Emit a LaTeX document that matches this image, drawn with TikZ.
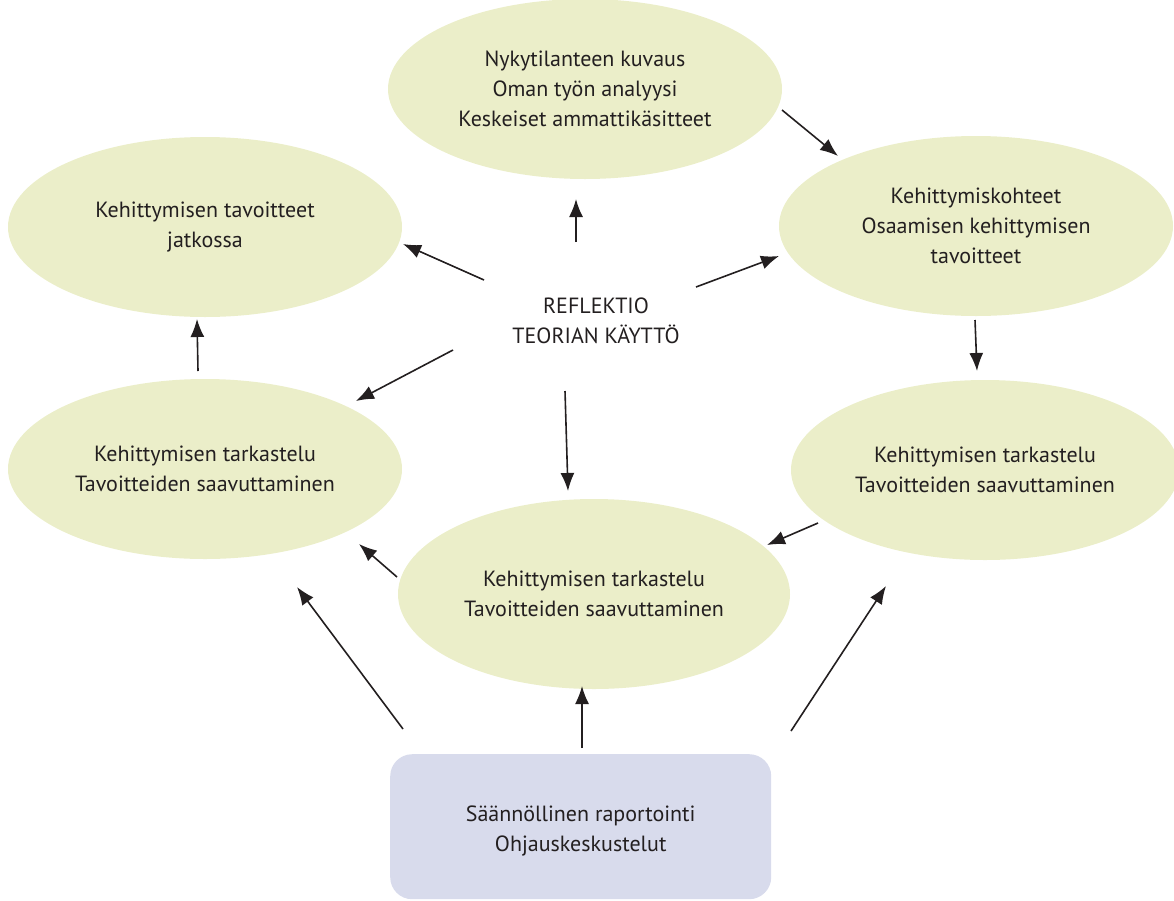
\documentclass[tikz,border=0pt]{standalone}
\usepackage{fontspec}
\setmainfont{PT Sans}
\usetikzlibrary{arrows.meta,shapes.geometric}
\definecolor{ovalfill}{HTML}{EBEEC9}
\definecolor{boxfill}{HTML}{D8DBEC}
\definecolor{inkgray}{HTML}{231F20}

\begin{document}
\begin{tikzpicture}[x=1pt,y=-1pt,>={Latex[length=18pt,width=14pt]},
	oval/.style={ellipse, fill=ovalfill, minimum width=394pt, minimum height=180pt, inner sep=0pt, align=center, text=inkgray, font=\fontsize{22}{30}\selectfont},
	reportbox/.style={rounded corners=22pt, fill=boxfill, minimum width=381pt, minimum height=145pt},
	plain/.style={align=center, text=inkgray, font=\fontsize{22}{30}\selectfont},
	link/.style={->, line width=1.6pt, inkgray}]
	\useasboundingbox (0,0) rectangle (1174,900);

	\node[oval] (current) at (585,89) {Nykytilanteen kuvaus\\Oman työn analyysi\\Keskeiset ammattikäsitteet};
	\node[oval] (future) at (205,227) {Kehittymisen tavoitteet\\jatkossa};
	\node[oval] (targets) at (976,226) {Kehittymiskohteet\\Osaamisen kehittymisen\\tavoitteet};
	\node[oval] (reviewL) at (205,469) {Kehittymisen tarkastelu\\Tavoitteiden saavuttaminen};
	\node[oval, minimum width=388pt] (reviewR) at (985,470) {Kehittymisen tarkastelu\\Tavoitteiden saavuttaminen};
	\node[oval, minimum width=392pt, minimum height=190pt] (reviewM) at (594,594) {Kehittymisen tarkastelu\\Tavoitteiden saavuttaminen};
	\node[plain] (reflect) at (596,321) {REFLEKTIO\\TEORIAN KÄYTTÖ};
	\node[reportbox, anchor=north west] (report) at (390,754) {};
	\node[plain] (reportText) at ([yshift=-4pt]report.center) {Säännöllinen raportointi\\Ohjauskeskustelut};

	\coordinate (r1) at (576,242);   \coordinate (c1) at (576,199);
	\coordinate (r2) at (484,280);   \coordinate (f2) at (403,244);
	\coordinate (r3) at (696,287);   \coordinate (t3) at (779,256);
	\coordinate (c4) at (782,110);   \coordinate (t4) at (838,156);
	\coordinate (t5) at (975,320);   \coordinate (v5) at (977,371);
	\coordinate (r6) at (453,350);   \coordinate (l6) at (356,401);
	\coordinate (r7) at (565,391);   \coordinate (m7) at (568,491);
	\coordinate (l8) at (198,371);   \coordinate (f8) at (197,319);
	\coordinate (m9) at (397,577);   \coordinate (l9) at (359,544);
	\coordinate (v10) at (818,523);  \coordinate (m10) at (767,545);
	\coordinate (p11) at (403,729);  \coordinate (l11) at (297,587);
	\coordinate (p12) at (582,748);  \coordinate (m12) at (582,686);
	\coordinate (p13) at (791,731);  \coordinate (v13) at (886,586);

	\foreach \a/\b in {r1/c1,r2/f2,r3/t3,c4/t4,t5/v5,r6/l6,r7/m7,l8/f8,m9/l9,v10/m10,p11/l11,p12/m12,p13/v13}
		\draw[link] (\a) -- (\b);
\end{tikzpicture}
\end{document}
